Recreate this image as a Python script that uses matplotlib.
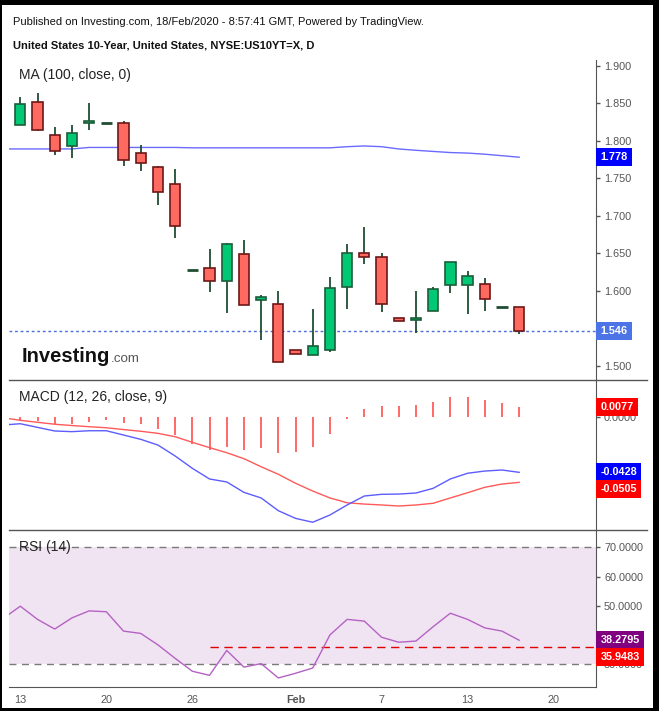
import numpy as np
import matplotlib.pyplot as plt
from matplotlib.patches import Rectangle
from matplotlib.lines import Line2D
import matplotlib.transforms as mtransforms

plt.rcParams['font.family'] = ['Liberation Sans', 'DejaVu Sans']

# daily candles, bar index 0 = 13 Jan
opens = [1.8205, 1.8512, 1.8072, 1.7925, 1.8232, 1.8236, 1.8232, 1.7832, 1.7645, 1.7419,
         1.6276, 1.6299, 1.6125, 1.6489, 1.5876, 1.5819, 1.5205, 1.5139, 1.5205, 1.6045,
         1.6499, 1.6445, 1.5632, 1.5605, 1.5725, 1.6072, 1.6072, 1.6085, 1.5779, 1.5779]
highs = [1.8587, 1.8636, 1.8179, 1.8209, 1.8503, 1.8236, 1.8263, 1.7943, 1.7663, 1.7623,
         1.6276, 1.6556, 1.6636, 1.6676, 1.5943, 1.5996, 1.5205, 1.5756, 1.6183, 1.6623,
         1.6849, 1.6503, 1.5632, 1.5996, 1.6045, 1.6379, 1.6263, 1.6169, 1.5779, 1.5779]
lows = [1.8205, 1.8125, 1.7813, 1.7773, 1.8147, 1.8236, 1.7667, 1.7600, 1.7147, 1.6707,
        1.6276, 1.5987, 1.5707, 1.5805, 1.5347, 1.5045, 1.5152, 1.5139, 1.5179, 1.5760,
        1.6352, 1.5720, 1.5592, 1.5432, 1.5725, 1.5973, 1.5693, 1.5733, 1.5779, 1.5423]
closes = [1.8490, 1.8139, 1.7863, 1.8103, 1.8263, 1.8236, 1.7743, 1.7699, 1.7312, 1.6859,
          1.6276, 1.6125, 1.6623, 1.5805, 1.5912, 1.5045, 1.5152, 1.5263, 1.6032, 1.6499,
          1.6445, 1.5819, 1.5592, 1.5636, 1.6019, 1.6379, 1.6192, 1.5885, 1.5779, 1.5460]

# indicators start one bar earlier (bar -1) so the lines reach the left edge
ma100 = [1.789, 1.789, 1.789, 1.789, 1.789, 1.791, 1.791, 1.791, 1.791, 1.791, 1.791,
         1.7905, 1.7905, 1.7905, 1.7905, 1.7905, 1.7905, 1.7905, 1.7905, 1.7905,
         1.792, 1.793, 1.792, 1.789, 1.7872, 1.7857, 1.7842, 1.7835, 1.782, 1.780, 1.778]
macd = [-0.0064, -0.0054, -0.0082, -0.0110, -0.0115, -0.0108, -0.0108, -0.0141, -0.0174,
        -0.0218, -0.0302, -0.0397, -0.0479, -0.0502, -0.0582, -0.0625, -0.0723, -0.0782,
        -0.0812, -0.0756, -0.0679, -0.0610, -0.0597, -0.0595, -0.0587, -0.0551, -0.0479,
        -0.0435, -0.0418, -0.0410, -0.0428]
signal = [-0.0008, -0.0028, -0.0043, -0.0058, -0.0068, -0.0077, -0.0085, -0.0099, -0.0112,
          -0.0128, -0.0154, -0.0197, -0.0238, -0.0277, -0.0323, -0.0385, -0.0443, -0.0512,
          -0.0572, -0.0625, -0.0662, -0.0672, -0.0679, -0.0687, -0.0679, -0.0666, -0.0625,
          -0.0585, -0.0543, -0.0518, -0.0505]
hist = [-0.0031, -0.0036, -0.0054, -0.0054, -0.0038, -0.0023, -0.0046, -0.0059, -0.0092,
        -0.0141, -0.0208, -0.0254, -0.0231, -0.0254, -0.0244, -0.0277, -0.0269, -0.0232,
        -0.0133, -0.0018, 0.0059, 0.0082, 0.0082, 0.0090, 0.0113, 0.0151, 0.0151, 0.0128,
        0.0105, 0.0077]
rsi = [45.7, 49.9, 45.4, 42.1, 45.9, 48.3, 48.0, 41.4, 40.6, 36.7, 32.1, 27.7, 26.3, 34.8,
       29.1, 30.3, 25.4, 27.0, 28.8, 40.1, 45.4, 44.8, 39.3, 37.6, 38.0, 42.9, 47.5, 45.4,
       42.5, 41.4, 38.28]

tick_pos = [0, 5, 10, 16, 21, 26, 31]
tick_lab = ["13", "20", "26", "Feb", "7", "13", "20"]
price_ticks = [1.5, 1.6, 1.65, 1.7, 1.75, 1.8, 1.85, 1.9]
last_price = 1.546
rsi_level, rsi_level_from = 35.9483, 11

W, H = 659, 711
GRAY = "#555555"
UP, DN = "#00c875", "#ff6a60"
UP_E, DN_E, WICK = "#1d5c39", "#6e1717", "#1f4d33"


def fx(px):
    return px / W


def fy(py):
    return 1 - py / H


fig = plt.figure(figsize=(W / 100, H / 100), dpi=100, facecolor="black")
fig.patches.append(Rectangle((fx(2), fy(708)), fx(651), 703 / H, transform=fig.transFigure,
                             facecolor="white", edgecolor="none", zorder=-10))

L, R = 9, 595.7
ax1 = fig.add_axes([fx(L), fy(380), fx(R - L), 320 / H])
ax2 = fig.add_axes([fx(L), fy(530), fx(R - L), 150 / H])
ax3 = fig.add_axes([fx(L), fy(687), fx(R - L), 157 / H])

xlim = (-0.657, 33.45)
n = len(opens)
x = np.arange(n)
xi = np.arange(-1, n)

for ax in (ax1, ax2, ax3):
    ax.set_xlim(*xlim)
    ax.set_facecolor("white")
    for s in ("top", "left", "bottom"):
        ax.spines[s].set_visible(False)
    ax.spines["right"].set_color(GRAY)
    ax.yaxis.tick_right()
    ax.tick_params(axis="y", direction="out", length=3, width=1, colors=GRAY,
                   labelsize=7.8, pad=3)
    ax.tick_params(axis="x", length=0)
    ax.set_xticks([])


def tag(ax, val, text, fc, dy=0):
    tr = mtransforms.blended_transform_factory(ax.transAxes, ax.transData)
    ax.annotate(text, xy=(1, val), xycoords=tr, xytext=(3.4, dy), textcoords="offset points",
                ha="left", va="center", fontsize=7.8, fontweight="bold", color="white",
                bbox=dict(boxstyle="square,pad=0.38", fc=fc, ec="none"),
                annotation_clip=False, zorder=10)


# ---- price panel
ax1.set_ylim(1.48093, 1.9076)
ax1.set_yticks(price_ticks)
ax1.yaxis.set_major_formatter(plt.FormatStrFormatter("%.3f"))
ax1.plot(xi, ma100, color="#6a6aff", lw=1, zorder=2)
ax1.axhline(last_price, color="#4a6fdc", lw=1, ls=(0, (2, 2)), zorder=1)
o, h, l, c = map(np.array, (opens, highs, lows, closes))
ax1.vlines(x, l, h, color=WICK, lw=1.3, zorder=3)
up = c > o
dn = c < o
flat = c == o
ax1.bar(x[up], (c - o)[up], bottom=o[up], width=0.6, color=UP, edgecolor=UP_E, lw=1.2, zorder=4)
ax1.bar(x[dn], (o - c)[dn], bottom=c[dn], width=0.6, color=DN, edgecolor=DN_E, lw=1.2, zorder=4)
ax1.hlines(c[flat], x[flat] - 0.33, x[flat] + 0.33, color=WICK, lw=2, zorder=4)
ax1.text(fx(19 - L) / fx(R - L), 0.952, "MA (100, close, 0)", transform=ax1.transAxes,
         fontsize=10, color="#222222", va="center")
tag(ax1, ma100[-1], "1.778", "#0000ff")
tag(ax1, last_price, "1.546", "#4c74e6")

# ---- MACD panel
ax2.set_ylim(-0.08715, 0.02823)
ax2.set_yticks([0.0])
ax2.yaxis.set_major_formatter(plt.FormatStrFormatter("%.4f"))
ax2.vlines(x, 0, hist, color="#ff4f4f", lw=1.2)
ax2.plot(xi, signal, color="#ff5a5a", lw=1)
ax2.plot(xi, macd, color="#5c5cff", lw=1)
ax2.text(fx(19 - L) / fx(R - L), 0.888, "MACD (12, 26, close, 9)", transform=ax2.transAxes,
         fontsize=10, color="#222222", va="center")
tag(ax2, hist[-1], "0.0077", "#ff0000")
tag(ax2, macd[-1], "-0.0428", "#0000ff")
tag(ax2, signal[-1], "-0.0505", "#ff0000", dy=-4.8)

# ---- RSI panel
ax3.set_ylim(22.32, 75.9)
ax3.set_yticks([30, 40, 50, 60, 70])
ax3.yaxis.set_major_formatter(plt.FormatStrFormatter("%.4f"))
ax3.axhspan(30, 70, color="#f1e4f2", lw=0, zorder=0)
ax3.axhline(70, color="#7a7a7a", lw=1, ls=(0, (5, 4)), zorder=1)
ax3.axhline(30, color="#7a7a7a", lw=1, ls=(0, (5, 4)), zorder=1)
ax3.plot([rsi_level_from, xlim[1]], [rsi_level, rsi_level], color="#e00000", lw=1,
         ls=(0, (6, 4)), zorder=2)
ax3.plot(xi, rsi, color="#b462c4", lw=1, zorder=3)
ax3.spines["bottom"].set_visible(True)
ax3.spines["bottom"].set_color(GRAY)
ax3.set_xticks(tick_pos)
ax3.set_xticklabels(tick_lab)
ax3.tick_params(axis="x", length=0, colors=GRAY, labelsize=7.8, pad=6)
ax3.get_xticklabels()[3].set_fontweight("bold")
ax3.text(fx(19 - L) / fx(R - L), 0.89, "RSI (14)", transform=ax3.transAxes,
         fontsize=10, color="#222222", va="center", zorder=5)
tag(ax3, rsi[-1], "38.2795", "#800080")
tag(ax3, rsi_level, "35.9483", "#ff0000", dy=-7)

# panel separators
for yy in (380, 530):
    fig.lines.append(Line2D([fx(L), fx(647)], [fy(yy), fy(yy)], transform=fig.transFigure,
                            color=GRAY, lw=1))

# header and logo
fig.text(fx(12.7), fy(25), "Published on Investing.com, 18/Feb/2020 - 8:57:41 GMT, Powered by TradingView.",
         fontsize=8, color="#111111", va="baseline")
fig.text(fx(12.7), fy(49), "United States 10-Year, United States, NYSE:US10YT=X, D",
         fontsize=8, fontweight="bold", color="#111111", va="baseline")
fig.text(fx(22), fy(362.5), "Investing", fontsize=14.5, fontweight="bold", color="#111111",
         va="baseline")
fig.text(fx(111), fy(362.5), ".com", fontsize=9.6, color="#555555", va="baseline")

fig.savefig("out.png", dpi=100, facecolor=fig.get_facecolor())
